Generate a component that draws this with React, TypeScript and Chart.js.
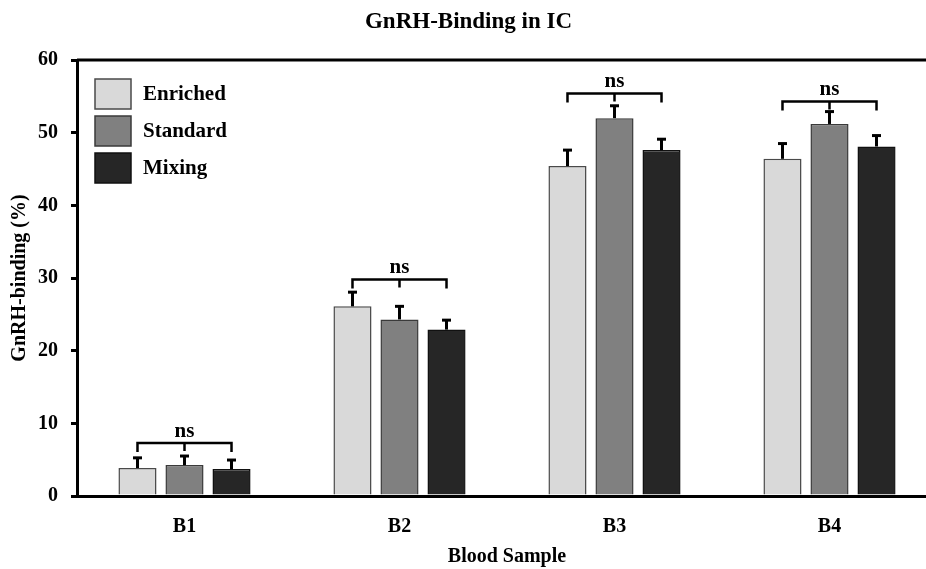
import React, { useEffect, useRef } from "react";
import { Chart, registerables } from "chart.js";

Chart.register(...registerables);

const categories = ["B1", "B2", "B3", "B4"];
const seriesNames = ["Enriched", "Standard", "Mixing"];
const enriched = [3.85, 26.1, 45.4, 46.4];
const standard = [4.25, 24.3, 52.0, 51.2];
const mixing = [3.7, 22.9, 47.6, 48.1];
const enrichedErr = [1.4, 1.95, 2.2, 2.1];
const standardErr = [1.25, 1.8, 1.7, 1.7];
const mixingErr = [1.25, 1.3, 1.5, 1.5];
const bracketLevel = [7.3, 29.8, 55.4, 54.3];
const sigLabels = ["ns", "ns", "ns", "ns"];
const yTicks = [0, 10, 20, 30, 40, 50, 60];

const FONT = "'Liberation Serif', 'Times New Roman', serif";
const fillColors = ["#d9d9d9", "#808080", "#262626"];
const borderColors = ["#4a4a4a", "#3a3a3a", "#111111"];
const errors = [enrichedErr, standardErr, mixingErr];

const overlayPlugin = {
  id: "overlay",
  afterDatasetsDraw(chart: any) {
    const ctx = chart.ctx;
    const y = chart.scales.y;
    const area = chart.chartArea;
    ctx.save();
    ctx.strokeStyle = "#000";
    // error bars (upper only)
    chart.data.datasets.forEach((ds: any, di: number) => {
      const meta = chart.getDatasetMeta(di);
      meta.data.forEach((bar: any, i: number) => {
        const v = ds.data[i];
        const top = y.getPixelForValue(v + errors[di][i]);
        const base = y.getPixelForValue(v);
        ctx.lineWidth = 3;
        ctx.beginPath();
        ctx.moveTo(bar.x, base);
        ctx.lineTo(bar.x, top);
        ctx.stroke();
        ctx.beginPath();
        ctx.moveTo(bar.x - 4.5, top);
        ctx.lineTo(bar.x + 4.5, top);
        ctx.stroke();
      });
    });
    // significance brackets
    categories.forEach((_c, i) => {
      const x0 = chart.getDatasetMeta(0).data[i].x;
      const xm = chart.getDatasetMeta(1).data[i].x;
      const x2 = chart.getDatasetMeta(2).data[i].x;
      const by = y.getPixelForValue(bracketLevel[i]);
      ctx.lineWidth = 2.5;
      ctx.beginPath();
      ctx.moveTo(x0, by + 9);
      ctx.lineTo(x0, by);
      ctx.lineTo(x2, by);
      ctx.lineTo(x2, by + 9);
      ctx.moveTo(xm, by);
      ctx.lineTo(xm, by + 8);
      ctx.stroke();
      ctx.fillStyle = "#000";
      ctx.font = `bold 21px ${FONT}`;
      ctx.textAlign = "center";
      ctx.textBaseline = "alphabetic";
      ctx.fillText(sigLabels[i], xm, by - 6);
    });
    ctx.restore();
  },
  afterDraw(chart: any) {
    const ctx = chart.ctx;
    const area = chart.chartArea;
    ctx.save();
    // top frame line
    ctx.strokeStyle = "#000";
    ctx.lineWidth = 3;
    ctx.beginPath();
    ctx.moveTo(area.left, area.top);
    ctx.lineTo(area.right, area.top);
    ctx.stroke();
    // legend
    chart.data.datasets.forEach((ds: any, di: number) => {
      const bx = area.left + 18;
      const byy = area.top + 19 + di * 37;
      ctx.fillStyle = ds.backgroundColor;
      ctx.fillRect(bx, byy, 36, 30);
      ctx.strokeStyle = ds.borderColor;
      ctx.lineWidth = 1.5;
      ctx.strokeRect(bx, byy, 36, 30);
      ctx.fillStyle = "#000";
      ctx.font = `bold 21px ${FONT}`;
      ctx.textAlign = "left";
      ctx.textBaseline = "middle";
      ctx.fillText(ds.label, bx + 48, byy + 16);
    });
    ctx.restore();
  },
};

export default function App() {
  const ref = useRef<HTMLCanvasElement>(null);
  useEffect(() => {
    const values = [enriched, standard, mixing];
    const chart = new Chart(ref.current as HTMLCanvasElement, {
      type: "bar",
      data: {
        labels: categories,
        datasets: seriesNames.map((name, i) => ({
          label: name,
          data: values[i],
          backgroundColor: fillColors[i],
          borderColor: borderColors[i],
          borderWidth: 1.5,
          categoryPercentage: 0.656,
          barPercentage: 0.81,
        })),
      },
      options: {
        responsive: false,
        animation: false,
        layout: { padding: { left: 0, right: 5, top: 0, bottom: 0 } },
        plugins: {
          legend: { display: false },
          tooltip: { enabled: false },
          title: {
            display: true,
            text: "GnRH-Binding in IC",
            color: "#000",
            font: { family: FONT, size: 23, weight: "bold" },
            padding: { top: 8, bottom: 24.4 },
          },
        },
        scales: {
          x: {
            afterFit: (s: any) => {
              s.height = 73;
            },
            grid: { display: false, drawTicks: false },
            border: { display: true, color: "#000", width: 3 },
            ticks: {
              color: "#000",
              padding: 19,
              font: { family: FONT, size: 20, weight: "bold" },
            },
            title: {
              display: true,
              text: "Blood Sample",
              color: "#000",
              padding: { top: 0, bottom: 0 },
              font: { family: FONT, size: 20, weight: "bold" },
            },
          },
          y: {
            min: 0,
            max: 60,
            afterFit: (s: any) => {
              s.width = 77;
            },
            afterBuildTicks: (s: any) => {
              s.ticks = yTicks.map((v) => ({ value: v }));
            },
            grid: {
              drawOnChartArea: false,
              drawTicks: true,
              tickLength: 6,
              lineWidth: 3,
              color: "#000",
            },
            border: { display: true, color: "#000", width: 3 },
            ticks: {
              color: "#000",
              padding: 13,
              font: { family: FONT, size: 20, weight: "bold" },
            },
            title: {
              display: true,
              text: "GnRH-binding (%)",
              color: "#000",
              padding: { top: 8, bottom: 0 },
              font: { family: FONT, size: 20, weight: "bold" },
            },
          },
        },
      },
      plugins: [overlayPlugin],
    } as any);
    return () => chart.destroy();
  }, []);

  return (
    <div
      style={{
        position: "fixed",
        left: 0,
        top: 0,
        width: 926,
        height: 569,
        overflow: "hidden",
        background: "#fff",
      }}
    >
      <canvas ref={ref} width={942} height={569} style={{ width: 942, height: 569, display: "block" }} />
    </div>
  );
}
